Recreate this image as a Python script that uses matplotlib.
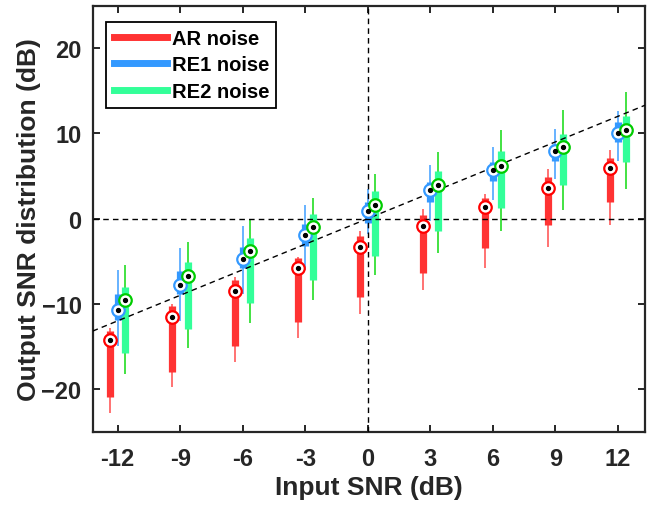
import matplotlib
matplotlib.use("Agg")
import matplotlib.pyplot as plt
from matplotlib.lines import Line2D
import numpy as np

plt.rcParams['font.family'] = ['Liberation Sans', 'DejaVu Sans']
plt.rcParams['font.weight'] = 'bold'

snr = [-12, -9, -6, -3, 0, 3, 6, 9, 12]
series_names = ["AR noise", "RE1 noise", "RE2 noise"]

ar_wlo = [-22.8, -19.8, -16.8, -14.0, -11.2, -8.4, -5.8, -3.3, -0.7]
ar_q1 = [-20.9, -18.0, -14.9, -12.1, -9.2, -6.4, -3.5, -0.75, 1.9]
ar_med = [-14.3, -11.5, -8.5, -5.85, -3.3, -0.9, 1.4, 3.6, 5.9]
ar_q3 = [-13.2, -10.3, -7.2, -4.6, -2.0, 0.43, 2.4, 4.9, 7.1]
ar_whi = [-12.8, -10.0, -6.9, -4.45, -1.5, 1.07, 2.9, 5.8, 8.1]

re1_wlo = [-15.0, -12.0, -8.9, -6.0, -1.8, -0.3, 2.2, 4.6, 6.8]
re1_q1 = [-11.9, -8.8, -5.85, -3.2, -0.55, 1.94, 4.4, 6.8, 8.94]
re1_med = [-10.7, -7.75, -4.7, -1.9, 0.87, 3.36, 5.7, 7.9, 10.1]
re1_q3 = [-8.9, -6.15, -3.3, -0.6, 1.96, 4.35, 6.6, 8.78, 11.36]
re1_whi = [-6.0, -3.5, -0.9, 1.54, 3.5, 6.3, 8.42, 10.56, 12.66]

re2_wlo = [-18.2, -15.2, -12.2, -9.5, -6.65, -4.0, -1.5, 1.0, 3.45]
re2_q1 = [-15.8, -12.9, -9.9, -7.2, -4.4, -1.5, 1.26, 4.0, 6.6]
re2_med = [-9.6, -6.7, -3.8, -1.0, 1.54, 3.96, 6.2, 8.4, 10.4]
re2_q3 = [-8.0, -5.1, -2.24, 0.55, 3.2, 5.54, 7.95, 9.96, 12.07]
re2_whi = [-5.5, -2.8, -0.08, 2.45, 5.2, 7.87, 10.4, 12.7, 14.9]

series = [
    (ar_wlo, ar_q1, ar_med, ar_q3, ar_whi),
    (re1_wlo, re1_q1, re1_med, re1_q3, re1_whi),
    (re2_wlo, re2_q1, re2_med, re2_q3, re2_whi),
]
offsets = [-0.37, 0.0, 0.37]
box_colors = ['#FF3333', '#3399FF', '#33FF99']
whisk_colors = ['#FF5A5A', '#4DA6FF', '#22DD22']
edge_colors = ['#FF0000', '#3399FF', '#00CC00']

fig = plt.figure(figsize=(6.48, 5.06), dpi=100)
ax = fig.add_axes([0.143, 0.145, 0.8523, 0.842])

x = np.array(snr, dtype=float)
for (wlo, q1, med, q3, whi), off, bc, wc in zip(series, offsets, box_colors, whisk_colors):
    xs = x + off
    ax.vlines(xs, wlo, whi, colors=wc, linewidth=1.2, zorder=2)
    ax.vlines(xs, q1, q3, colors=bc, linewidth=5.2, zorder=3)

# reference lines
xl = (-13.2, 13.3)
ax.axhline(0, color='k', linestyle=(0, (4, 3)), linewidth=1.0, zorder=4)
ax.axvline(0, color='k', linestyle=(0, (4, 3)), linewidth=1.0, zorder=4)
ax.plot(xl, xl, color='k', linestyle=(0, (4, 3)), linewidth=1.0, zorder=4)

for (wlo, q1, med, q3, whi), off, ec in zip(series, offsets, edge_colors):
    xs = x + off
    ax.plot(xs, med, linestyle='none', marker='o', markersize=9,
            markerfacecolor='white', markeredgecolor=ec, markeredgewidth=1.6, zorder=5)
    ax.plot(xs, med, linestyle='none', marker='o', markersize=2.8,
            markerfacecolor='black', markeredgecolor='black', zorder=6)

ax.set_xlim(*xl)
ax.set_ylim(-25, 25)
ax.set_xticks(snr)
ax.set_xticklabels([str(v) for v in snr])
ax.set_yticks([-20, -10, 0, 10, 20])
ax.tick_params(direction='in', length=5, width=1.4, top=True, right=True,
               labelsize=17, colors='#262626')
ax.tick_params(axis='x', pad=11)
ax.tick_params(axis='y', pad=8)
for lab in ax.get_xticklabels() + ax.get_yticklabels():
    lab.set_fontweight('bold')
for sp in ax.spines.values():
    sp.set_linewidth(1.6)
    sp.set_color('#262626')

ax.set_xlabel('Input SNR (dB)', fontsize=19, fontweight='bold', color='#262626', labelpad=4)
ax.set_ylabel('Output SNR distribution (dB)', fontsize=19, fontweight='bold', color='#262626', labelpad=0)

handles = [Line2D([0], [0], color=c, linewidth=5) for c in box_colors]
leg = ax.legend(handles, series_names, loc='upper left', bbox_to_anchor=(0.025, 0.962),
                borderaxespad=0, fancybox=False, framealpha=1, edgecolor='black',
                prop={'weight': 'bold', 'size': 14.5}, handlelength=2.65,
                labelspacing=0.38, handletextpad=0.25, borderpad=0.35)
leg.get_frame().set_linewidth(1.3)

fig.savefig('out.png', dpi=100)
